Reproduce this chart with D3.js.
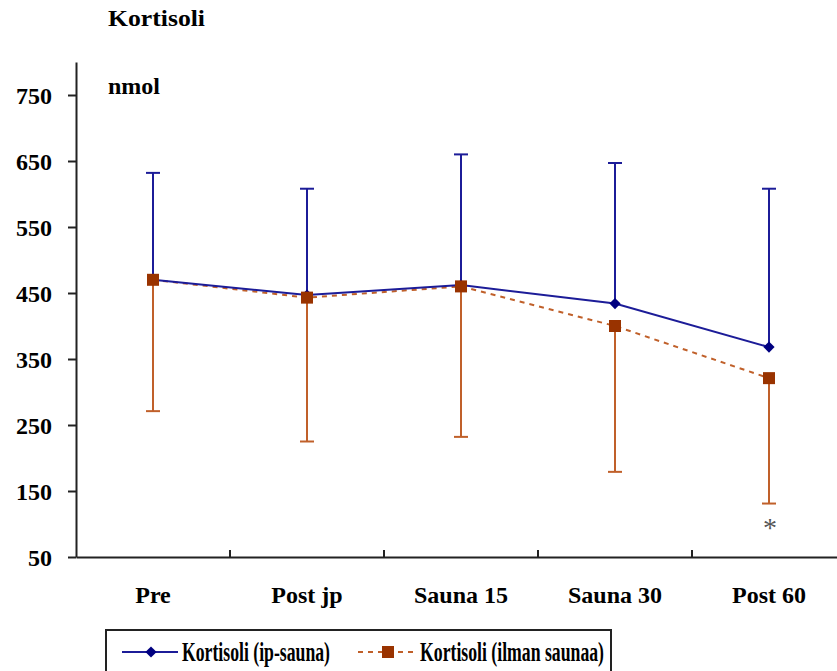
<!DOCTYPE html>
<html><head><meta charset="utf-8">
<script src="https://cdn.jsdelivr.net/npm/d3@7"></script>
<style>
html,body{margin:0;padding:0;background:#fff;}
svg{display:block;}
</style></head>
<body><svg id="c" width="837" height="671"></svg>
<script>
const categories = ["Pre", "Post jp", "Sauna 15", "Sauna 30", "Post 60"];
const ipSauna = [470, 447, 462, 434, 368];
const ipSaunaUpper = [632, 608, 660, 647, 608];
const ilmanSaunaa = [470, 443, 460, 400, 321];
const ilmanSaunaaLower = [271, 225, 232, 179, 131];
const yTicks = [50, 150, 250, 350, 450, 550, 650, 750];
const seriesNames = ["Kortisoli (ip-sauna)", "Kortisoli (ilman saunaa)"];

const FONT = "Liberation Serif";
const svg = d3.select("#c");
const blueLine = "#1c1c98", blueMark = "#000080";
const orLine = "#c0602a", orMark = "#993300";

const x = d3.scaleBand().domain(categories).range([76, 846]).padding(0);
const y = d3.scaleLinear().domain([50, 800]).range([557, 62]);
const cx = c => x(c) + x.bandwidth() / 2;

function txt(sel) { return sel.attr("font-family", FONT).attr("font-weight", "bold"); }

// title & unit
txt(svg.append("text")).attr("x", 108).attr("y", 26).attr("font-size", 24).attr("textLength", 97).attr("lengthAdjust","spacingAndGlyphs").text("Kortisoli");
txt(svg.append("text")).attr("x", 108).attr("y", 94).attr("font-size", 24).text("nmol");

// y axis
const yAxis = svg.append("g").attr("transform", "translate(76,0)")
  .call(d3.axisLeft(y).tickValues(yTicks).tickSize(8).tickSizeOuter(0).tickPadding(16));
yAxis.attr("font-family", FONT).attr("font-size", 24).attr("font-weight", "bold");
yAxis.select(".domain").attr("stroke", "#222").attr("stroke-width", 2);
yAxis.selectAll(".tick line").attr("stroke", "#222").attr("stroke-width", 2);
yAxis.selectAll(".tick text").attr("fill", "#000").attr("dy", "0.35em");

// x axis
const xAxis = svg.append("g").attr("transform", "translate(0,557)")
  .call(d3.axisBottom(x).tickSize(0).tickPadding(29));
xAxis.attr("font-family", FONT).attr("font-size", 24).attr("font-weight", "bold");
xAxis.select(".domain").attr("stroke", "#222").attr("stroke-width", 2);
xAxis.selectAll(".tick text").attr("fill", "#000");
xAxis.selectAll(".bticks").data(categories).enter().append("line")
  .attr("x1", d => x(d) + x.bandwidth()).attr("x2", d => x(d) + x.bandwidth())
  .attr("y1", 0).attr("y2", -7).attr("stroke", "#222").attr("stroke-width", 2);

const idx = d3.range(categories.length);

// error bars
const eb = svg.append("g");
idx.forEach(i => {
  const X = cx(categories[i]);
  eb.append("line").attr("x1", X).attr("x2", X).attr("y1", y(ilmanSaunaa[i])).attr("y2", y(ilmanSaunaaLower[i])).attr("stroke", orLine).attr("stroke-width", 2);
  eb.append("line").attr("x1", X - 7).attr("x2", X + 7).attr("y1", y(ilmanSaunaaLower[i])).attr("y2", y(ilmanSaunaaLower[i])).attr("stroke", orLine).attr("stroke-width", 2);
  eb.append("line").attr("x1", X).attr("x2", X).attr("y1", y(ipSauna[i])).attr("y2", y(ipSaunaUpper[i])).attr("stroke", blueLine).attr("stroke-width", 2);
  eb.append("line").attr("x1", X - 7).attr("x2", X + 7).attr("y1", y(ipSaunaUpper[i])).attr("y2", y(ipSaunaUpper[i])).attr("stroke", blueLine).attr("stroke-width", 2);
});

// lines
const line = d3.line().x(i => cx(categories[i]));
svg.append("path").attr("d", line.y(i => y(ilmanSaunaa[i]))(idx)).attr("fill", "none").attr("stroke", orLine).attr("stroke-width", 2).attr("stroke-dasharray", "5,5");
svg.append("path").attr("d", line.y(i => y(ipSauna[i]))(idx)).attr("fill", "none").attr("stroke", blueLine).attr("stroke-width", 2);

// markers
const diamond = d3.symbol().type(d3.symbolDiamond2).size(80);
svg.selectAll(".dm").data(idx).enter().append("path")
  .attr("d", diamond).attr("transform", i => `translate(${cx(categories[i])},${y(ipSauna[i])})`).attr("fill", blueMark);
svg.selectAll(".sq").data(idx).enter().append("rect")
  .attr("x", i => cx(categories[i]) - 6).attr("y", i => y(ilmanSaunaa[i]) - 6).attr("width", 12).attr("height", 12).attr("fill", orMark);

// significance asterisk
svg.append("text").attr("font-family", FONT).attr("x", cx(categories[4]) + 1).attr("y", 537).attr("text-anchor", "middle").attr("font-size", 28).attr("fill", "#555").text("*");

// legend
const lg = svg.append("g");
lg.append("rect").attr("x", 106).attr("y", 630).attr("width", 505).attr("height", 60).attr("fill", "none").attr("stroke", "#222").attr("stroke-width", 2);
lg.append("line").attr("x1", 122).attr("x2", 178).attr("y1", 652).attr("y2", 652).attr("stroke", blueLine).attr("stroke-width", 2);
lg.append("path").attr("d", diamond).attr("transform", "translate(151,652)").attr("fill", blueMark);
txt(lg.append("text")).attr("x", 182).attr("y", 661).attr("font-size", 27).attr("textLength", 148).attr("lengthAdjust", "spacingAndGlyphs").text(seriesNames[0]);
lg.append("line").attr("x1", 358).attr("x2", 416).attr("y1", 652).attr("y2", 652).attr("stroke", orLine).attr("stroke-width", 2).attr("stroke-dasharray", "5,5");
lg.append("rect").attr("x", 382).attr("y", 646).attr("width", 12).attr("height", 12).attr("fill", orMark);
txt(lg.append("text")).attr("x", 420).attr("y", 661).attr("font-size", 27).attr("textLength", 184).attr("lengthAdjust", "spacingAndGlyphs").text(seriesNames[1]);
</script></body></html>
